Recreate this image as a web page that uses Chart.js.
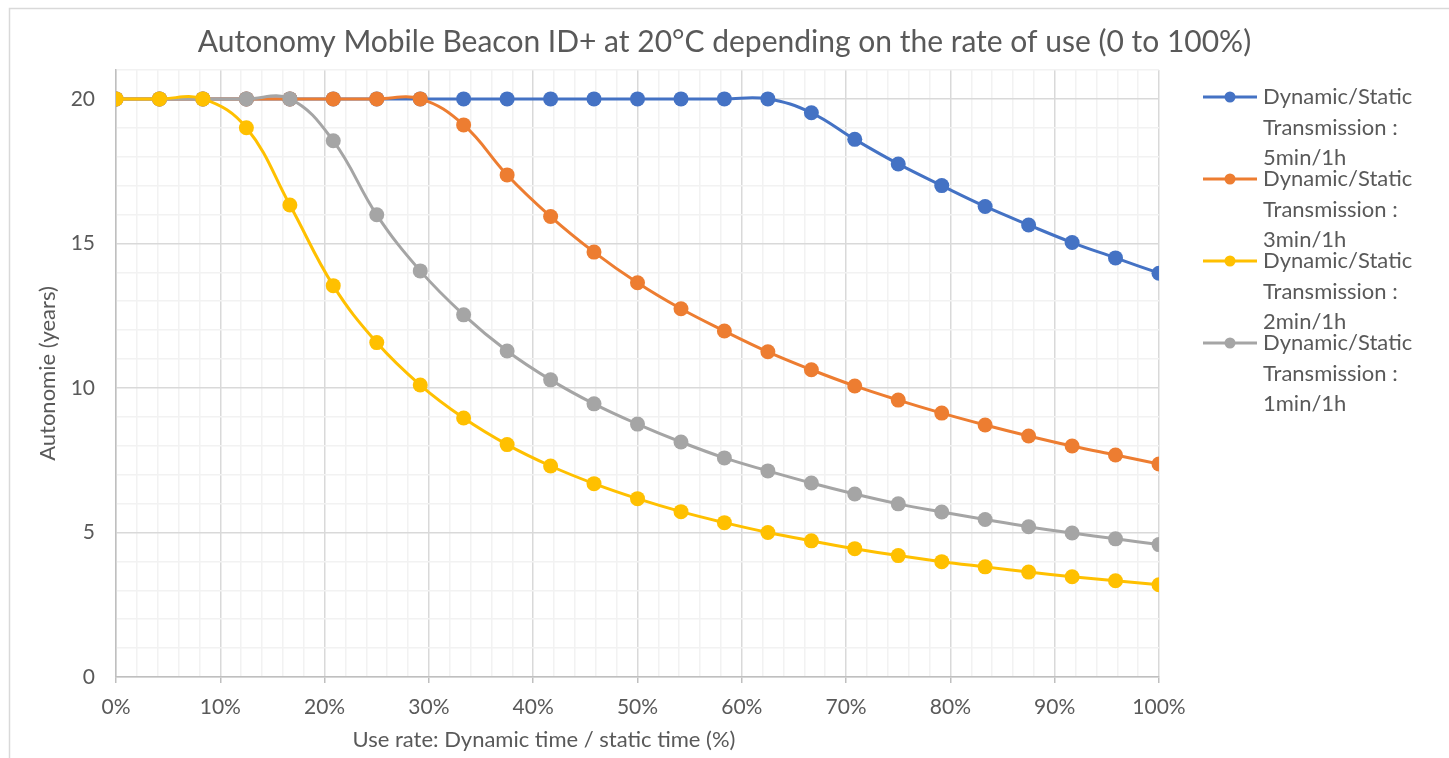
<!DOCTYPE html>
<html>
<head>
<meta charset="utf-8">
<title>Autonomy Mobile Beacon ID+</title>
<script src="https://cdn.jsdelivr.net/npm/chart.js@4/dist/chart.umd.min.js"></script>
<style>
    html, body { margin: 0; padding: 0; background: #fff; }
    #wrap { width: 1449px; height: 758px; }
</style>
</head>
<body>
<div id="wrap"><canvas id="chart" width="1449" height="758"></canvas></div>
<script>
// Data
const useRate = [0, 4.17, 8.33, 12.5, 16.67, 20.83, 25, 29.17, 33.33, 37.5, 41.67, 45.83, 50,
    54.17, 58.33, 62.5, 66.67, 70.83, 75, 79.17, 83.33, 87.5, 91.67, 95.83, 100];

const tx5min = [20, 20, 20, 20, 20, 20, 20, 20, 20, 20, 20, 20, 20,
    20, 20, 20, 19.52, 18.6, 17.75, 17.0, 16.28, 15.64, 15.03, 14.5, 13.97];
const tx3min = [20, 20, 20, 20, 20, 20, 20, 20, 19.1, 17.37, 15.93, 14.7, 13.64,
    12.74, 11.97, 11.25, 10.63, 10.07, 9.58, 9.13, 8.72, 8.34, 7.99, 7.68, 7.37];
const tx2min = [20, 20, 20, 19.0, 16.33, 13.54, 11.57, 10.1, 8.96, 8.04, 7.3, 6.69, 6.17,
    5.72, 5.34, 5.0, 4.71, 4.44, 4.2, 3.99, 3.81, 3.63, 3.47, 3.33, 3.19];
const tx1min = [20, 20, 20, 20, 20, 18.55, 15.99, 14.05, 12.53, 11.28, 10.28, 9.45, 8.75,
    8.13, 7.58, 7.13, 6.71, 6.33, 5.99, 5.71, 5.45, 5.2, 4.98, 4.78, 4.58];

const seriesLabels = [
    ['Dynamic/Static', 'Transmission :', '5min/1h'],
    ['Dynamic/Static', 'Transmission :', '3min/1h'],
    ['Dynamic/Static', 'Transmission :', '2min/1h'],
    ['Dynamic/Static', 'Transmission :', '1min/1h']
];
const chartTitle = 'Autonomy Mobile Beacon ID+ at 20°C depending on the rate of use (0 to 100%)';
const xTitle = 'Use rate: Dynamic time / static time (%)';

const colors = ['#4472C4', '#ED7D31', '#FFC000', '#A5A5A5'];
const textColor = '#595959';
const fontFamily = 'Lato, "Open Sans", sans-serif';

function toPoints(values) {
    return values.map((v, i) => ({ x: useRate[i], y: v }));
}

function makeDataset(values, idx, order) {
    return {
        label: seriesLabels[idx].join(' '),
        data: toPoints(values),
        borderColor: colors[idx],
        backgroundColor: colors[idx],
        borderWidth: 3,
        pointRadius: 7.5,
        pointHoverRadius: 7.5,
        pointBorderWidth: 0,
        tension: 0.4,
        order: order
    };
}

// outer frame, chart title and x axis title (Excel puts it left of centre)
const framePlugin = {
    id: 'frame',
    beforeDraw(chart) {
        const ctx = chart.ctx;
        ctx.save();
        ctx.fillStyle = '#fff';
        ctx.fillRect(0, 0, chart.width, chart.height);
        ctx.strokeStyle = '#D9D9D9';
        ctx.lineWidth = 1.5;
        ctx.beginPath();
        ctx.moveTo(9.5, chart.height + 5);
        ctx.lineTo(9.5, 8.5);
        ctx.lineTo(chart.width + 5, 8.5);
        ctx.stroke();

        ctx.fillStyle = textColor;
        ctx.textAlign = 'center';
        ctx.textBaseline = 'middle';
        ctx.font = '30px ' + fontFamily;
        ctx.fillText(chartTitle, chart.width / 2, 42);
        ctx.font = '22px ' + fontFamily;
        ctx.fillText(xTitle, 544, 740);
        ctx.restore();
    }
};

// legend on the right with wrapped labels
const sideLegend = {
    id: 'sideLegend',
    afterDraw(chart) {
        const ctx = chart.ctx;
        const x0 = 1203, lineLen = 54, textX = 1263;
        const firstY = 97, itemGap = 82, lineGap = 30.5;
        ctx.save();
        ctx.font = '22px ' + fontFamily;
        ctx.textBaseline = 'middle';
        seriesLabels.forEach((lines, i) => {
            const y = firstY + i * itemGap;
            ctx.strokeStyle = colors[i];
            ctx.lineWidth = 3;
            ctx.beginPath();
            ctx.moveTo(x0, y);
            ctx.lineTo(x0 + lineLen, y);
            ctx.stroke();
            ctx.fillStyle = colors[i];
            ctx.beginPath();
            ctx.arc(x0 + lineLen / 2, y, 5.5, 0, Math.PI * 2);
            ctx.fill();
            ctx.fillStyle = textColor;
            lines.forEach((t, k) => ctx.fillText(t, textX, y + k * lineGap));
        });
        ctx.restore();
    }
};

const ctx = document.getElementById('chart').getContext('2d');
new Chart(ctx, {
    type: 'line',
    data: {
        datasets: [
            makeDataset(tx5min, 0, 4),
            makeDataset(tx3min, 1, 3),
            makeDataset(tx2min, 2, 1),
            makeDataset(tx1min, 3, 2)
        ]
    },
    options: {
        responsive: false,
        animation: false,
        layout: { padding: { left: 0, right: 290, top: 70, bottom: 0 } },
        plugins: {
            legend: { display: false },
            tooltip: { enabled: false },
            title: { display: false }
        },
        scales: {
            x: {
                type: 'linear',
                min: 0,
                max: 100,
                afterFit(scale) { scale.height = 81; },
                ticks: {
                    stepSize: 2,
                    autoSkip: false,
                    maxRotation: 0,
                    padding: 12,
                    color: textColor,
                    font: { family: fontFamily, size: 21 },
                    callback: v => (Math.round(v) % 10 === 0 ? Math.round(v) + '%' : '')
                },
                grid: {
                    color: c => (Math.round(c.tick.value) % 10 === 0 ? '#D9D9D9' : '#F2F2F2'),
                    tickColor: c => (Math.round(c.tick.value) % 10 === 0 ? '#BFBFBF' : 'rgba(0,0,0,0)'),
                    tickLength: 6,
                    lineWidth: 1.5
                },
                border: { color: '#BFBFBF', width: 1.5 },
                title: { display: false }
            },
            y: {
                min: 0,
                max: 21,
                afterFit(scale) { scale.width = 116; },
                ticks: {
                    stepSize: 1,
                    autoSkip: false,
                    padding: 21,
                    color: textColor,
                    font: { family: fontFamily, size: 21 },
                    callback: v => (v % 5 === 0 ? v : '')
                },
                grid: {
                    color: c => (c.tick.value % 5 === 0 ? '#D9D9D9' : '#F2F2F2'),
                    drawTicks: false,
                    lineWidth: 1.5
                },
                border: { color: '#BFBFBF', width: 1.5 },
                title: {
                    display: true,
                    text: 'Autonomie (years)',
                    color: textColor,
                    font: { family: fontFamily, size: 22 },
                    padding: { top: 35, bottom: 0 }
                }
            }
        }
    },
    plugins: [framePlugin, sideLegend]
});
</script>
</body>
</html>
